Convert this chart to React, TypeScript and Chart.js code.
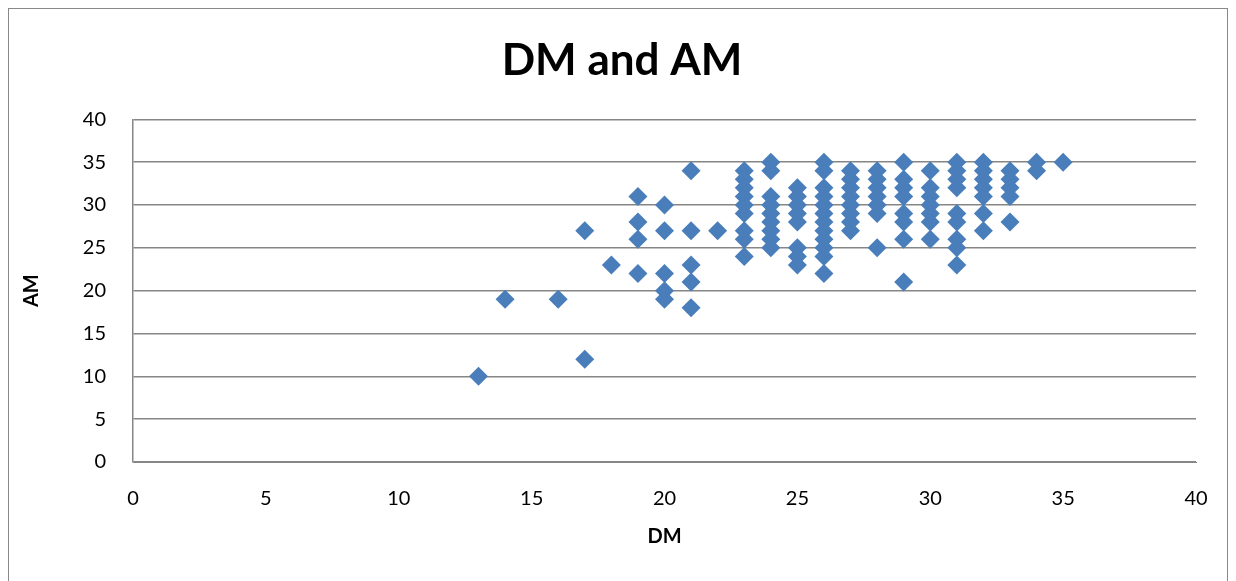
import React, { useEffect, useRef } from "react";
import { Chart, registerables } from "chart.js";

Chart.register(...registerables);

const chartTitle = "DM and AM";
const xAxisTitle = "DM";
const yAxisTitle = "AM";

const dmValues: number[] = [
  13, 14, 16, 17, 17, 18,
  19, 19, 19, 19,
  20, 20, 20, 20, 20,
  21, 21, 21, 21, 21,
  22,
  23, 23, 23, 23, 23, 23, 23, 23, 23,
  24, 24, 24, 24, 24, 24, 24, 24, 24,
  25, 25, 25, 25, 25, 25, 25, 25,
  26, 26, 26, 26, 26, 26, 26, 26, 26, 26, 26, 26,
  27, 27, 27, 27, 27, 27, 27, 27,
  28, 28, 28, 28, 28, 28, 28,
  29, 29, 29, 29, 29, 29, 29, 29,
  30, 30, 30, 30, 30, 30, 30,
  31, 31, 31, 31, 31, 31, 31, 31, 31,
  32, 32, 32, 32, 32, 32, 32,
  33, 33, 33, 33, 33,
  34, 34,
  35,
];

const amValues: number[] = [
  10, 19, 19, 27, 12, 23,
  31, 28, 26, 22,
  30, 27, 22, 20, 19,
  34, 27, 23, 21, 18,
  27,
  34, 33, 32, 31, 30, 29, 27, 26, 24,
  35, 34, 31, 30, 29, 28, 27, 26, 25,
  32, 31, 30, 29, 28, 25, 24, 23,
  35, 34, 32, 31, 30, 29, 28, 27, 26, 25, 24, 22,
  34, 33, 32, 31, 30, 29, 28, 27,
  34, 33, 32, 31, 30, 29, 25,
  35, 33, 32, 31, 29, 28, 26, 21,
  34, 32, 31, 30, 29, 28, 26,
  35, 34, 33, 32, 29, 28, 26, 25, 23,
  35, 34, 33, 32, 31, 29, 27,
  34, 33, 32, 31, 28,
  35, 34,
  35,
];

const FONT = "Lato, 'Liberation Sans', sans-serif";
const GRID = "#868686";
const MARKER = "#4a7ebb";

export default function App() {
  const canvasRef = useRef<HTMLCanvasElement | null>(null);

  useEffect(() => {
    if (!canvasRef.current) return;
    const points = dmValues.map((x, i) => ({ x, y: amValues[i] }));
    const chart = new Chart(canvasRef.current, {
      type: "scatter",
      data: {
        datasets: [
          {
            label: "AM",
            data: points,
            pointStyle: "rectRot",
            pointRadius: 9.5,
            pointBackgroundColor: MARKER,
            pointBorderColor: MARKER,
            pointBorderWidth: 0,
          },
        ],
      },
      options: {
        animation: false,
        responsive: false,
        maintainAspectRatio: false,
        layout: { autoPadding: false, padding: { left: 8, right: 0, top: 0, bottom: 0 } },
        plugins: {
          legend: { display: false },
          tooltip: { enabled: false },
          title: {
            display: true,
            text: chartTitle,
            color: "#000",
            font: { family: FONT, size: 44, weight: "bold" },
            padding: { top: 25, bottom: 32.5 },
          },
        },
        scales: {
          x: {
            type: "linear",
            min: 0,
            max: 40,
            afterFit: (scale: any) => {
              scale.height = 119;
              scale.paddingLeft = 0;
              scale.paddingRight = 0;
            },
            ticks: {
              stepSize: 5,
              color: "#000",
              padding: 25,
              font: { family: FONT, size: 20 },
            },
            grid: { display: false, drawTicks: false },
            border: { display: true, color: GRID, width: 1 },
            title: {
              display: true,
              text: xAxisTitle,
              color: "#000",
              font: { family: FONT, size: 20, weight: "bold" },
              padding: { top: 0, bottom: 32 },
            },
          },
          y: {
            type: "linear",
            min: 0,
            max: 40,
            afterFit: (scale: any) => {
              scale.width = 116;
            },
            ticks: {
              stepSize: 5,
              color: "#000",
              padding: 27,
              font: { family: FONT, size: 20 },
            },
            grid: { color: GRID, lineWidth: 1.5, drawTicks: false },
            border: { display: true, color: GRID, width: 1.5 },
            title: {
              display: true,
              text: yAxisTitle,
              color: "#000",
              font: { family: FONT, size: 20, weight: "bold" },
              padding: { top: 3, bottom: 0 },
            },
          },
          yRightSpace: {
            type: "linear",
            position: "right",
            min: 0,
            max: 40,
            afterFit: (scale: any) => {
              scale.width = 31;
            },
            ticks: { display: false },
            grid: { display: false, drawTicks: false },
            border: { display: false },
          },
        },
      },
    });
    return () => chart.destroy();
  }, []);

  return (
    <div
      style={{
        width: 1218,
        height: 572,
        border: "1px solid #888",
        background: "#fff",
      }}
    >
      <canvas ref={canvasRef} width={1218} height={572} style={{ display: "block" }} />
    </div>
  );
}
